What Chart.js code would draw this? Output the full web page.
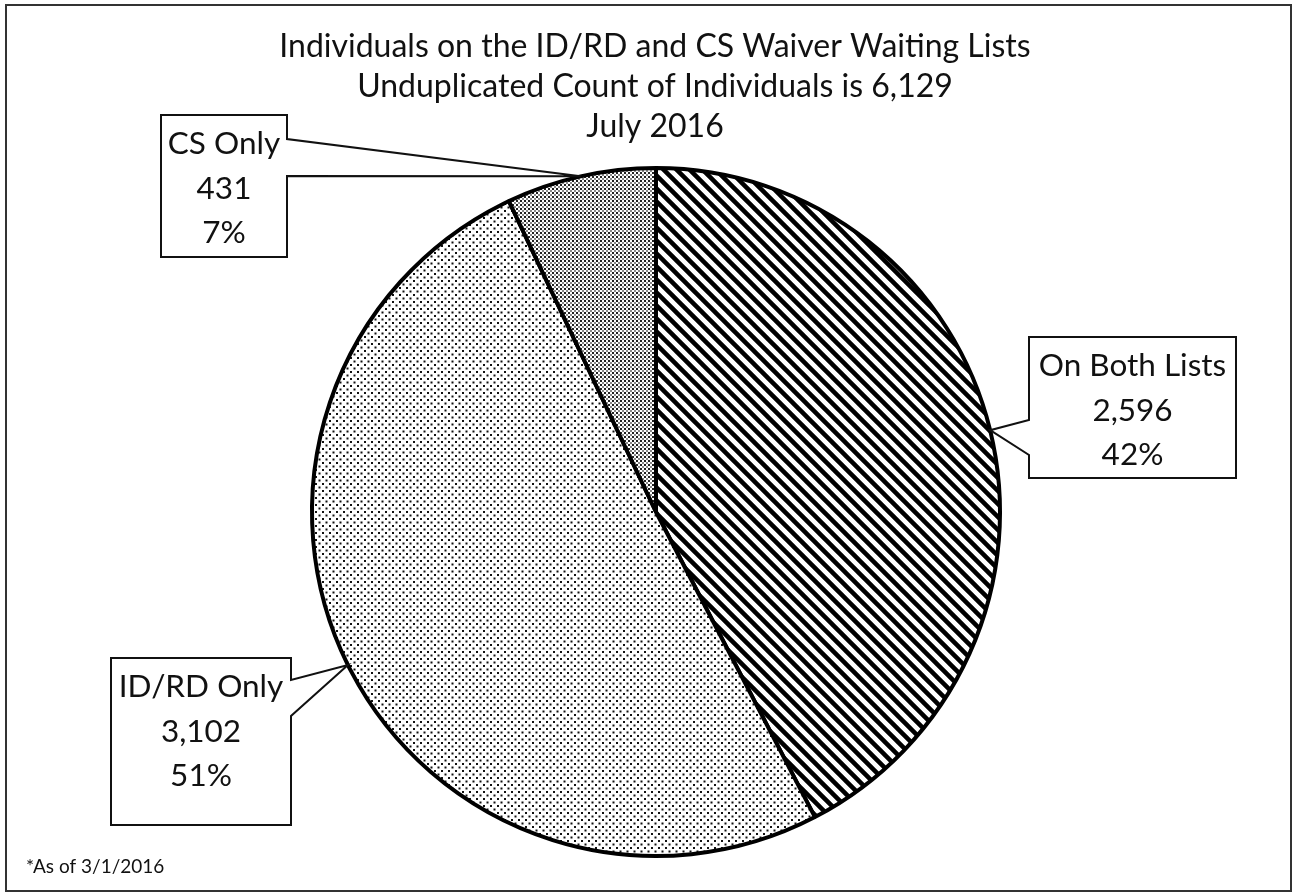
<!DOCTYPE html>
<html>
<head>
<meta charset="utf-8">
<script src="https://cdn.jsdelivr.net/npm/chart.js@4.4.1/dist/chart.umd.min.js"></script>
<style>
  html, body { margin: 0; padding: 0; background: #fff; }
  #wrap { width: 1298px; height: 894px; }
</style>
</head>
<body>
<div id="wrap"><canvas id="waitChart"></canvas></div>
<script>
const categories = ['On Both Lists', 'ID/RD Only', 'CS Only'];
const counts = [2596, 3102, 431];
const titleLines = [
    'Individuals on the ID/RD and CS Waiver Waiting Lists',
    'Unduplicated Count of Individuals is 6,129',
    'July 2016'
];
const footnote = '*As of 3/1/2016';

// fill patterns (black & white print look)
function makePattern(size, draw) {
    const c = document.createElement('canvas');
    c.width = size; c.height = size;
    const g = c.getContext('2d');
    g.fillStyle = '#fff';
    g.fillRect(0, 0, size, size);
    draw(g);
    return g.createPattern(c, 'repeat');
}

const hatch = makePattern(13, g => {
    g.strokeStyle = '#000';
    g.lineWidth = 4.5;
    g.beginPath();
    g.moveTo(-3, -3); g.lineTo(16, 16);
    g.moveTo(-16, -3); g.lineTo(3, 16);
    g.moveTo(10, -3); g.lineTo(29, 16);
    g.stroke();
});
const sparseDots = makePattern(7, g => {
    g.fillStyle = '#111';
    g.fillRect(0, 0, 2, 2);
    g.fillRect(3.5, 3.5, 2, 2);
});
const denseDots = makePattern(4, g => {
    g.fillStyle = '#222';
    g.fillRect(0, 0, 2, 2);
    g.fillStyle = '#888';
    g.fillRect(2, 2, 2, 2);
});

// where each callout box sits: box rect + the edge the wedge leaves from
const callouts = [
    { left: 1029, top: 337, right: 1236, bottom: 478, side: 'left', w1: 420, w2: 455 },
    { left: 111, top: 658, right: 291, bottom: 825, side: 'right', w1: 680, w2: 716 },
    { left: 161, top: 115, right: 287, bottom: 257, side: 'right', w1: 139, w2: 176 }
];

const calloutPlugin = {
    id: 'callouts',
    beforeDraw(chart) {
        const ctx = chart.ctx;
        ctx.save();
        ctx.fillStyle = '#fff';
        ctx.fillRect(0, 0, chart.width, chart.height);
        ctx.strokeStyle = '#333';
        ctx.lineWidth = 2;
        ctx.strokeRect(6, 5, 1285, 886);
        ctx.restore();
    },
    afterDatasetsDraw(chart) {
        const ctx = chart.ctx;
        const meta = chart.getDatasetMeta(0);
        const data = chart.data.datasets[0].data;
        const total = data.reduce((a, b) => a + b, 0);
        ctx.save();

        // title (drawn here so the long first line is not squeezed to the pie width)
        ctx.fillStyle = '#111';
        ctx.font = '32px Lato';
        ctx.textAlign = 'center';
        ctx.textBaseline = 'middle';
        titleLines.forEach((t, k) => ctx.fillText(t, 655, 47 + k * 40));

        meta.data.forEach((arc, i) => {
            const p = arc.getProps(['x', 'y', 'startAngle', 'endAngle', 'outerRadius'], true);
            const mid = (p.startAngle + p.endAngle) / 2;
            const ax = p.x + Math.cos(mid) * p.outerRadius;
            const ay = p.y + Math.sin(mid) * p.outerRadius;
            const b = callouts[i];
            ctx.beginPath();
            if (b.side === 'left') {
                ctx.moveTo(b.left, b.top);
                ctx.lineTo(b.right, b.top);
                ctx.lineTo(b.right, b.bottom);
                ctx.lineTo(b.left, b.bottom);
                ctx.lineTo(b.left, b.w2);
                ctx.lineTo(ax, ay);
                ctx.lineTo(b.left, b.w1);
            } else {
                ctx.moveTo(b.left, b.top);
                ctx.lineTo(b.right, b.top);
                ctx.lineTo(b.right, b.w1);
                ctx.lineTo(ax, ay);
                ctx.lineTo(b.right, b.w2);
                ctx.lineTo(b.right, b.bottom);
                ctx.lineTo(b.left, b.bottom);
            }
            ctx.closePath();
            ctx.fillStyle = '#fff';
            ctx.fill();
            ctx.strokeStyle = '#111';
            ctx.lineWidth = 2;
            ctx.stroke();

            const lines = [
                chart.data.labels[i],
                data[i].toLocaleString('en-US'),
                Math.round(data[i] / total * 100) + '%'
            ];
            ctx.fillStyle = '#111';
            ctx.font = '31.5px Lato';
            ctx.textAlign = 'center';
            ctx.textBaseline = 'middle';
            const cx = (b.left + b.right) / 2;
            lines.forEach((t, k) => ctx.fillText(t, cx, b.top + 29 + k * 44.5));
        });

        ctx.font = '19px Lato';
        ctx.textAlign = 'left';
        ctx.textBaseline = 'middle';
        ctx.fillText(footnote, 26, 867);
        ctx.restore();
    }
};

new Chart(document.getElementById('waitChart'), {
    type: 'pie',
    data: {
        labels: categories,
        datasets: [{
            data: counts,
            backgroundColor: [hatch, sparseDots, denseDots],
            borderColor: '#000',
            borderWidth: 4
        }]
    },
    options: {
        responsive: true,
        maintainAspectRatio: false,
        animation: false,
        layout: { padding: { top: 166, left: 310, right: 296, bottom: 36 } },
        plugins: {
            legend: { display: false },
            tooltip: { enabled: false },
            title: { display: false }
        }
    },
    plugins: [calloutPlugin]
});
</script>
</body>
</html>
